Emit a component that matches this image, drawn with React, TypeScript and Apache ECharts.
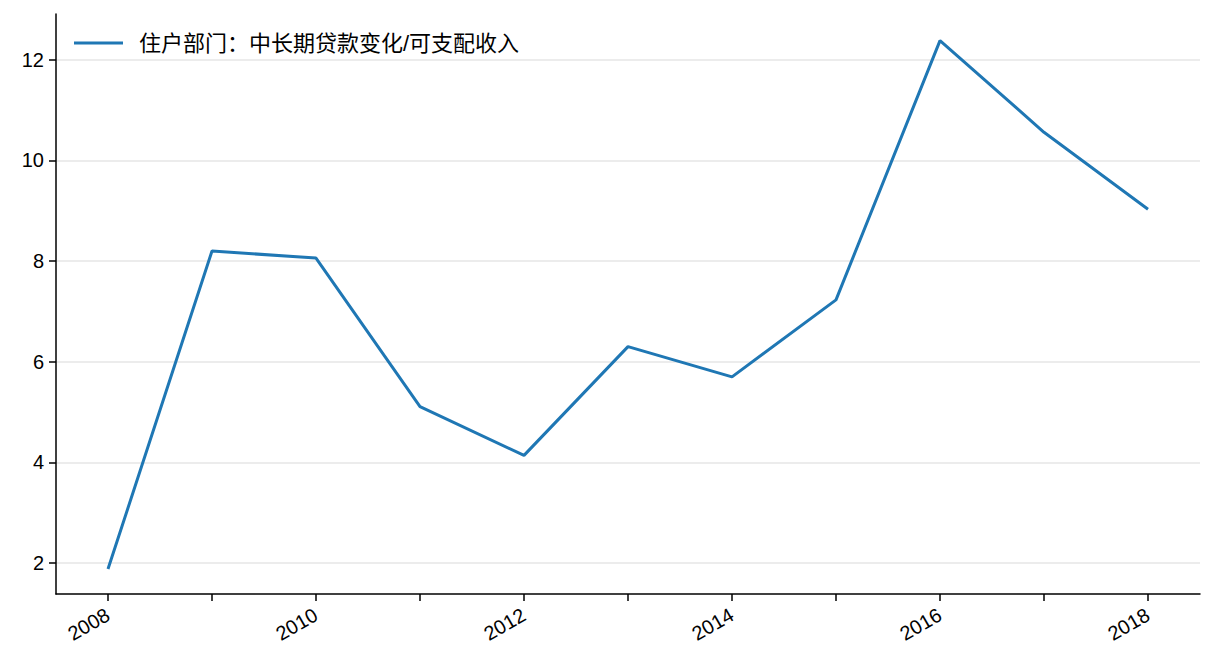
import { useEffect, useRef } from "react";
import * as echarts from "echarts";

const years = ["2008", "2009", "2010", "2011", "2012", "2013", "2014", "2015", "2016", "2017", "2018"];
const ratio = [1.88, 8.2, 8.06, 5.11, 4.14, 6.3, 5.7, 7.23, 12.38, 10.56, 9.03];
const yTicks = [2, 4, 6, 8, 10, 12];
const seriesName = "住户部门：中长期贷款变化/可支配收入";

const font = "'Liberation Sans', Arial, 'Noto Sans CJK SC', sans-serif";

export default function App() {
  const ref = useRef<HTMLDivElement>(null);

  useEffect(() => {
    document.body.style.margin = "0";
    if (!ref.current) return;
    const chart = echarts.init(ref.current, undefined, { renderer: "svg" });
    chart.setOption({
      animation: false,
      textStyle: { fontFamily: font },
      legend: {
        left: 69,
        top: 27,
        icon: "rect",
        itemWidth: 49,
        itemHeight: 3,
        textStyle: { color: "#000", fontSize: 22, fontFamily: font, padding: [0, 0, 0, 11] },
        data: [seriesName],
      },
      grid: { left: 56, right: 16, top: 14, bottom: 78 },
      xAxis: {
        type: "category",
        boundaryGap: true,
        data: years,
        axisLine: { lineStyle: { color: "#000", width: 1.5 } },
        axisTick: { show: true, alignWithLabel: true, interval: 0, length: 7, lineStyle: { color: "#000", width: 1.5 } },
        axisLabel: {
          interval: 1,
          rotate: 30,
          color: "#000",
          fontSize: 20,
          margin: 19,
        },
        splitLine: { show: false },
      },
      yAxis: {
        type: "value",
        min: 1.385,
        max: 12.91,
        axisLine: { show: true, lineStyle: { color: "#000", width: 1.5 } },
        axisTick: { show: true, length: 7, customValues: yTicks, lineStyle: { color: "#000", width: 1.5 } },
        axisLabel: { customValues: yTicks, color: "#000", fontSize: 20, margin: 12 },
        splitLine: { show: true, lineStyle: { color: "#e6e6e6", width: 1.5 } },
      },
      series: [
        {
          name: seriesName,
          type: "line",
          data: ratio,
          showSymbol: false,
          symbol: "none",
          lineStyle: { color: "#1f77b4", width: 3 },
          itemStyle: { color: "#1f77b4" },
        },
      ],
    });
    return () => chart.dispose();
  }, []);

  return <div ref={ref} style={{ width: 1216, height: 672 }} />;
}
